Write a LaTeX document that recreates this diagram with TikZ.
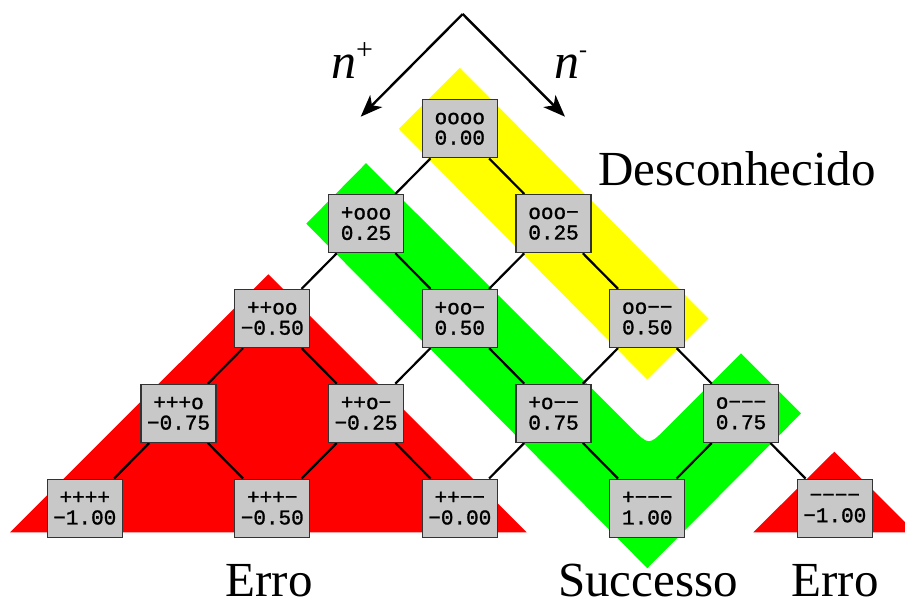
\documentclass[tikz,border=0pt]{standalone}
\usepackage{fontspec}
\setmainfont{Liberation Serif}
\newfontfamily\nodefont[FakeBold=1.3]{Liberation Mono}
\usetikzlibrary{arrows.meta,backgrounds}
\definecolor{boxgray}{HTML}{C8C8C8}
\definecolor{bandyellow}{HTML}{FFFF00}
\definecolor{bandgreen}{HTML}{00FF00}
\definecolor{bandred}{HTML}{FF0000}
\begin{document}
\begin{tikzpicture}[x=1pt,y=-1pt,
  stbox/.style={draw=black!80, fill=boxgray, line width=1.3pt, minimum width=75pt,
    minimum height=58pt, inner sep=0pt, align=center,
    font=\nodefont\fontsize{21}{20.5}\selectfont},
  link/.style={line width=2.2pt, black},
  biglabel/.style={font=\fontsize{49}{49}\selectfont, anchor=base, inner sep=0pt, text depth=0pt},
  dirarrow/.style={line width=2.4pt, -{Stealth[length=22pt,width=17pt,inset=6pt]}}]
\useasboundingbox (0,0) rectangle (905,604);

% lattice nodes
\node[stbox] (n0) at (459.8,128.8) {oooo\\0.00};
\node[stbox] (n1a) at (366.05,223.65) {+ooo\\0.25};
\node[stbox] (n1b) at (553.55,223.65) {ooo−\\0.25};
\node[stbox] (n2a) at (272.3,318.5) {++oo\\−0.50};
\node[stbox] (n2b) at (459.8,318.5) {+oo−\\0.50};
\node[stbox] (n2c) at (647.3,318.5) {oo−−\\0.50};
\node[stbox] (n3a) at (178.55,413.35) {+++o\\−0.75};
\node[stbox] (n3b) at (366.05,413.35) {++o−\\−0.25};
\node[stbox] (n3c) at (553.55,413.35) {+o−−\\0.75};
\node[stbox] (n3d) at (741.05,413.35) {o−−−\\0.75};
\node[stbox] (n4a) at (84.8,508.2) {++++\\−1.00};
\node[stbox] (n4b) at (272.3,508.2) {+++−\\−0.50};
\node[stbox] (n4c) at (459.8,508.2) {++−−\\−0.00};
\node[stbox] (n4d) at (647.3,508.2) {+−−−\\1.00};
\node[stbox] (n4e) at (834.8,508.2) {−−−−\\−1.00};

% background bands
\begin{scope}[on background layer]
  \clip (0,0) rectangle (905,604);
  \fill[bandred] (268.3,274.3) -- (526.6,532.3) -- (10,532.3) -- cycle;
  \fill[bandred] (834.3,451.7) -- (915.3,532.3) -- (753.3,532.3) -- cycle;
  \fill[bandyellow] (459.8,67.8) -- (708.3,318.5) -- (647.3,379.5) -- (398.8,128.8) -- cycle;
  \fill[bandgreen] (366.05,163.15) -- (631.9,428.5) .. controls (648.9,445.5) .. (665.9,428.5)
     -- (741.05,353.35) -- (801.05,413.35) -- (647.3,568.2) -- (306.3,223.65) -- cycle;
  % connectors
  \draw[link] (n0) -- (n1a);
  \draw[link] (n0) -- (n1b);
  \draw[link] (n1a) -- (n2a);
  \draw[link] (n1a) -- (n2b);
  \draw[link] (n1b) -- (n2b);
  \draw[link] (n1b) -- (n2c);
  \draw[link] (n2a) -- (n3a);
  \draw[link] (n2a) -- (n3b);
  \draw[link] (n2b) -- (n3b);
  \draw[link] (n2b) -- (n3c);
  \draw[link] (n2c) -- (n3c);
  \draw[link] (n2c) -- (n3d);
  \draw[link] (n3a) -- (n4a);
  \draw[link] (n3a) -- (n4b);
  \draw[link] (n3b) -- (n4b);
  \draw[link] (n3b) -- (n4c);
  \draw[link] (n3c) -- (n4c);
  \draw[link] (n3c) -- (n4d);
  \draw[link] (n3d) -- (n4d);
  \draw[link] (n3d) -- (n4e);
\end{scope}

% direction arrows
\coordinate (apex) at (462.7,14);
\coordinate (tipplus) at (360.7,116.7);
\coordinate (tipminus) at (565,116.7);
\draw[dirarrow] (apex) -- (tipplus);
\draw[dirarrow] (apex) -- (tipminus);
\node[anchor=base west, inner sep=0pt, font=\fontsize{50}{50}\selectfont] (nplus) at (331,79)
  {\textit{n}{\fontsize{30}{30}\selectfont\raisebox{19pt}{+}}};
\node[anchor=base west, inner sep=0pt, font=\fontsize{50}{50}\selectfont] (nminus) at (554,79)
  {\textit{n}{\fontsize{24}{24}\selectfont\raisebox{21pt}{-}}};

% labels
\node[biglabel, anchor=base west] (desc) at (598,186) {Desconhecido};
\node[biglabel] (erro1) at (269,596) {Erro};
\node[biglabel] (succ) at (648,596) {Successo};
\node[biglabel] (erro2) at (835,596) {Erro};
\end{tikzpicture}
\end{document}
